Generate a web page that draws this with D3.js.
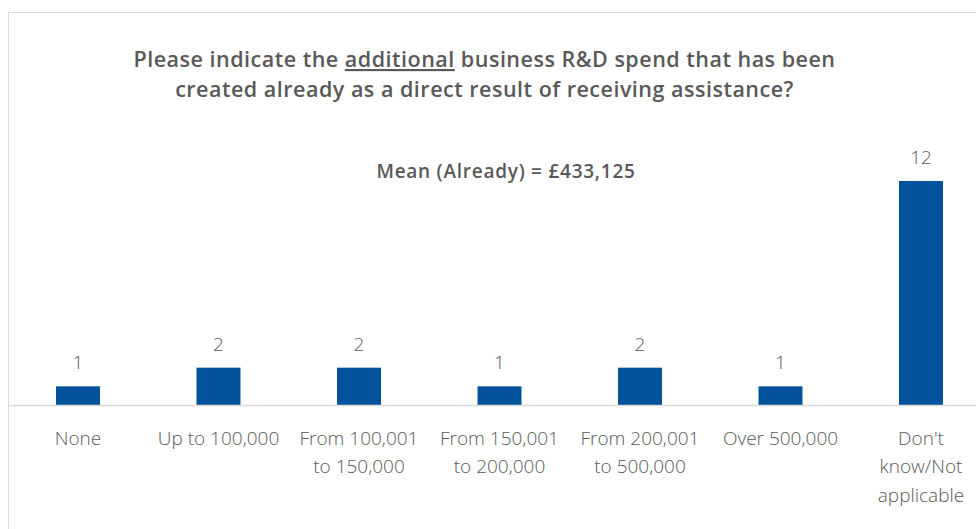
<!DOCTYPE html>
<html>
<head>
<meta charset="utf-8">
<script src="https://cdn.jsdelivr.net/npm/d3@7"></script>
<style>
  html, body { margin: 0; padding: 0; background: #ffffff; }
  svg { display: block; font-family: "Segoe UI", "Open Sans", "Noto Sans", sans-serif; }
</style>
</head>
<body>
<svg id="chart" width="976" height="529"></svg>
<script>
// Response bands (tick labels, one array per wrapped line set)
const categories = [
  "None",
  "Up to 100,000",
  "From 100,001 to 150,000",
  "From 150,001 to 200,000",
  "From 200,001 to 500,000",
  "Over 500,000",
  "Don't know/Not applicable"
];
const categoryLines = [
  ["None"],
  ["Up to 100,000"],
  ["From 100,001", "to 150,000"],
  ["From 150,001", "to 200,000"],
  ["From 200,001", "to 500,000"],
  ["Over 500,000"],
  ["Don't", "know/Not", "applicable"]
];
// Number of respondents in each band
const counts = [1, 2, 2, 1, 2, 1, 12];

const titleLines = [
  ["Please indicate the ", "additional", " business R&D spend that has been"],
  ["created already as a direct result of receiving assistance?"]
];
const meanText = "Mean (Already) = £433,125";

const svg = d3.select("#chart");
const W = 976, H = 529;
const textGray = "#595959";
const barColor = "#02539b";
const lineGray = "#d9d9d9";

// Chart frame (continues past the right and bottom edges)
svg.append("rect")
  .attr("x", 8.5).attr("y", 12.5)
  .attr("width", 1100).attr("height", 700)
  .attr("fill", "#ffffff")
  .attr("stroke", lineGray).attr("stroke-width", 1);

const baseY = 405;
const x = d3.scaleBand()
  .domain(categories)
  .range([7.75, 991.25])
  .paddingInner(0.687)
  .paddingOuter(0.3435);

const y = d3.scaleLinear()
  .domain([0, 12])
  .range([baseY, 181]);

// Title, with the key word underlined
const title = svg.append("text")
  .attr("text-anchor", "middle")
  .attr("fill", textGray)
  .attr("font-weight", 600)
  .attr("font-size", 21.5)
  .attr("letter-spacing", 0.5);
titleLines.forEach((parts, i) => {
  parts.forEach((p, j) => {
    const s = title.append("tspan").text(p);
    if (j === 0) s.attr("x", 484.5).attr("y", 67 + i * 30);
    if (p === "additional") s.attr("text-decoration", "underline");
  });
});

// Mean annotation
svg.append("text")
  .attr("x", 506).attr("y", 178)
  .attr("text-anchor", "middle")
  .attr("fill", textGray)
  .attr("font-weight", 600)
  .attr("font-size", 19)
  .attr("letter-spacing", 0.75)
  .text(meanText);

// Bars
const barW = x.bandwidth();
svg.append("g").selectAll("rect")
  .data(counts)
  .join("rect")
  .attr("x", (d, i) => x(categories[i]))
  .attr("y", d => y(d))
  .attr("width", barW)
  .attr("height", d => baseY - y(d))
  .attr("fill", barColor);

// Value labels
svg.append("g").selectAll("text")
  .data(counts)
  .join("text")
  .attr("x", (d, i) => x(categories[i]) + barW / 2)
  .attr("y", d => y(d) - 17)
  .attr("text-anchor", "middle")
  .attr("fill", textGray)
  .attr("font-weight", 300)
  .attr("font-size", 19)
  .text(d => d);

// Category axis line
svg.append("line")
  .attr("x1", 8).attr("x2", W)
  .attr("y1", baseY + 0.5).attr("y2", baseY + 0.5)
  .attr("stroke", lineGray).attr("stroke-width", 1.5);

// Category labels
const labels = svg.append("g").selectAll("text")
  .data(categoryLines)
  .join("text")
  .attr("text-anchor", "middle")
  .attr("fill", textGray)
  .attr("font-weight", 300)
  .attr("font-size", 19);
labels.each(function(lines, i) {
  const cx = x(categories[i]) + barW / 2;
  d3.select(this).selectAll("tspan")
    .data(lines)
    .join("tspan")
    .attr("x", cx)
    .attr("y", (d, k) => 445 + k * 28.3)
    .text(d => d);
});
</script>
</body>
</html>
